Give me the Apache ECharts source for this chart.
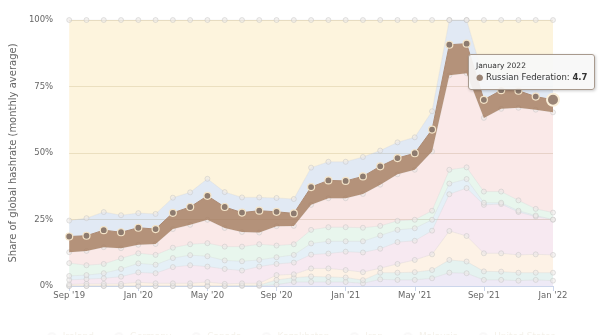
<!DOCTYPE html>
<html><head><meta charset="utf-8">
<script src="https://cdn.jsdelivr.net/npm/echarts@6/dist/echarts.min.js"></script>
<style>html,body{margin:0;padding:0;background:#fff}#c{width:600px;height:335px}</style>
</head><body><div id="c"></div>
<script>
const months = ["September 2019","October 2019","November 2019","December 2019","January 2020","February 2020","March 2020","April 2020","May 2020","June 2020","July 2020","August 2020","September 2020","October 2020","November 2020","December 2020","January 2021","February 2021","March 2021","April 2021","May 2021","June 2021","July 2021","August 2021","September 2021","October 2021","November 2021","December 2021","January 2022"];
const yTicks = [0, 25, 50, 75, 100];

const ireland      = [0,0,0,0,0,0,0,0,0,0,0,0,0.5,1.5,1.5,1.5,1.5,1.0,2.5,2.3,2.3,2.9,5.0,4.8,2.3,2.3,2.0,2.3,2.0];
const germany      = [0,0,0,0,0,0,0,0,0,0,0.2,0.3,1.8,1.6,2.1,1.9,1.7,1.2,2.5,2.7,2.9,3.1,4.8,4.4,3.2,3.1,3.0,2.7,3.0];
const canada       = [0.6,0.8,0.8,0.8,1.4,1.0,1.0,1.0,1.5,0.8,0.8,0.7,1.8,1.3,3.0,3.2,2.8,3.0,1.7,3.3,4.6,5.9,10.9,9.6,6.8,6.9,6.7,6.9,6.7];
const kazakhstan   = [1.7,1.8,2.1,2.7,3.7,3.8,6.1,6.8,5.8,5.6,4.8,6.3,4.2,4.4,5.2,5.6,6.9,7.4,7.3,8.2,7.2,8.9,13.8,18.0,18.2,18.5,16.1,14.2,13.2];
const iran         = [1.5,1.5,1.9,2.9,3.4,3.2,3.4,3.8,3.9,3.2,3.5,2.5,2.5,2.9,4.2,4.6,3.9,4.2,5.0,4.6,4.7,4.1,4.0,3.4,0.8,0.5,0.5,0.4,0.1];
const malaysia     = [4.8,3.7,3.5,4.0,3.8,3.7,3.9,4.1,4.9,5.2,5.5,5.9,4.4,4.0,5.1,5.3,5.3,5.1,3.6,3.4,3.2,3.4,5.2,4.4,4.2,4.2,3.9,2.5,2.6];
const unitedStates = [4.1,5.4,6.3,3.8,3.2,4.1,7.0,7.3,8.8,7.0,5.5,4.4,7.3,6.9,9.4,10.9,10.9,12.7,15.5,17.5,18.8,22.3,35.5,35.4,27.7,31.1,34.8,37.3,37.7];
const russia       = [5.9,5.7,6.4,6.0,6.4,5.6,6.1,6.7,9.0,7.9,7.3,8.2,5.4,4.7,6.7,6.7,6.5,6.6,6.9,6.1,6.2,8.2,11.5,11.1,6.8,7.0,6.4,4.9,4.7];
const other        = [6.0,6.6,6.8,6.4,5.5,5.7,5.7,5.5,6.4,5.6,5.7,5.0,5.2,5.4,7.3,7.0,7.2,7.3,5.9,5.9,6.0,6.9,9.3,8.9,7.7,5.9,6.1,7.6,8.9];
const china        = [75.4,74.5,72.2,73.4,72.6,72.9,66.8,64.8,59.7,64.7,66.7,66.7,66.9,67.3,55.5,53.3,53.3,51.5,49.1,46.0,44.1,34.3,0,0,22.3,20.5,20.5,21.2,21.1];

const FONT = 'DejaVu Sans';
const faded = [
  ['Ireland', ireland, 'rgba(200,185,225,0.30)'],
  ['Germany', germany, 'rgba(160,210,200,0.28)'],
  ['Canada', canada, 'rgba(245,200,150,0.24)'],
  ['Kazakhstan', kazakhstan, 'rgba(220,165,195,0.24)'],
  ['Iran', iran, 'rgba(170,205,230,0.30)'],
  ['Malaysia', malaysia, 'rgba(180,225,195,0.30)'],
  ['United States', unitedStates, 'rgba(240,195,190,0.36)']
];
const series = [];
function fadedSeries(name, data, fill) {
  return {
    name, type: 'line', stack: 'total', data,
    symbol: 'circle', symbolSize: 5, showSymbol: true,
    lineStyle: { width: 1, color: 'rgba(210,210,210,0.3)' },
    itemStyle: { color: 'rgba(236,234,231,0.6)', borderColor: 'rgba(190,190,190,0.42)', borderWidth: 1 },
    areaStyle: { color: fill, opacity: 1 },
    emphasis: { disabled: true }, z: 2, animation: false
  };
}
faded.forEach(f => series.push(fadedSeries(f[0], f[1], f[2])));
series.push({
  name: 'Russian Federation', type: 'line', stack: 'total',
  data: russia.map((v, i) => i === russia.length - 1
    ? { value: v, symbolSize: 12, itemStyle: { color: '#9a8475', borderColor: '#fbefd8', borderWidth: 2 } }
    : v),
  symbol: 'circle', symbolSize: 7, showSymbol: true,
  lineStyle: { width: 1, color: '#ad8b74' },
  itemStyle: { color: '#8d7b6f', borderColor: '#f4e4c8', borderWidth: 1.2 },
  areaStyle: { color: 'rgba(168,128,100,0.86)', opacity: 1 },
  emphasis: { disabled: true }, z: 4, animation: false
});
series.push(fadedSeries('Other', other, 'rgba(180,200,228,0.40)'));
series.push(fadedSeries('Mainland China', china, 'rgba(250,228,170,0.40)'));

const chart = echarts.init(document.getElementById('c'), null, { renderer: 'canvas' });
chart.setOption({
  animation: false,
  backgroundColor: '#fff',
  grid: { left: 68, right: 47, top: 20, bottom: 49, containLabel: false },
  legend: {
    top: 327, left: 'center', itemWidth: 12, itemHeight: 10, itemGap: 18,
    textStyle: { color: '#f4f1ea', fontFamily: FONT, fontSize: 9 },
    itemStyle: { opacity: 0.2 }, lineStyle: { opacity: 0 },
    data: series.map(s => s.name)
  },
  tooltip: {
    trigger: 'item', triggerOn: 'none', alwaysShowContent: true,
    transitionDuration: 0, showDelay: 0,
    position: [468, 54],
    backgroundColor: 'rgba(247,247,247,0.92)', borderColor: '#a89a8e', borderWidth: 1,
    padding: [5, 7],
    extraCssText: 'box-shadow:1px 1px 3px rgba(0,0,0,0.2);border-radius:3px;',
    formatter: p => '<div style="font-family:' + FONT + ';font-size:7.5px;color:#333;line-height:11px">' + p.name +
      '</div><div style="font-family:' + FONT + ';font-size:8.5px;color:#333;line-height:13px"><span style="color:#9a8475">\u25CF</span> ' +
      p.seriesName + ': <b>' + (typeof p.value === 'object' ? p.value.value : p.value) + '</b></div>'
  },
  xAxis: {
    type: 'category', data: months, boundaryGap: false,
    axisLine: { lineStyle: { color: '#ccd6eb' } },
    axisTick: { show: true, interval: 3, length: 5, lineStyle: { color: '#ccd6eb' } },
    axisLabel: {
      interval: 3, color: '#666', fontFamily: FONT, fontSize: 8.5, margin: 5,
      formatter: v => { const p = v.split(' '); return p[0].slice(0, 3) + " '" + p[1].slice(2); }
    },
    splitLine: { show: false }
  },
  yAxis: {
    type: 'value', min: yTicks[0], max: yTicks[yTicks.length - 1], interval: yTicks[1] - yTicks[0],
    name: 'Share of global hashrate (monthly average)', nameLocation: 'middle', nameRotate: 90, nameGap: 43,
    nameTextStyle: { color: '#666', fontFamily: FONT, fontSize: 10 },
    axisLine: { show: false }, axisTick: { show: false },
    axisLabel: { formatter: '{value}%', color: '#666', fontFamily: FONT, fontSize: 8.5, margin: 16 },
    splitLine: { lineStyle: { color: '#e2dccd', width: 1 } }
  },
  series
});
chart.dispatchAction({ type: 'showTip', seriesIndex: 7, dataIndex: 28 });
</script></body></html>
